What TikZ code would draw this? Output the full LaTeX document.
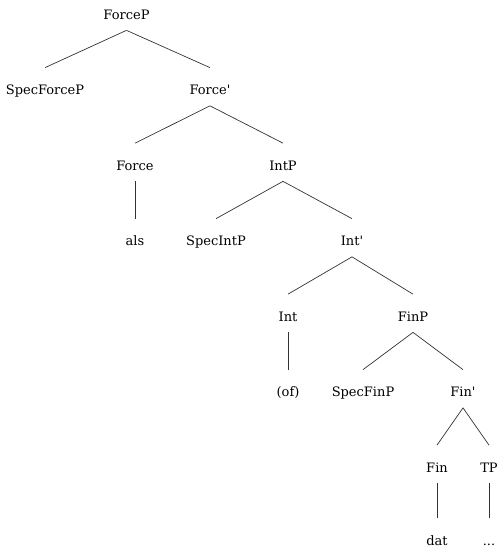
\documentclass[tikz,border=0pt]{standalone}
\usepackage{fontspec}
\setmainfont{DejaVu Serif}
\usepackage{tikz}

\begin{document}
\begin{tikzpicture}[x=1pt, y=-1pt, line width=0.7pt, draw=black!80,
    cat/.style={anchor=base, inner xsep=0pt, inner ysep=4pt, text height=22.5pt, text depth=7pt, font=\fontsize{13}{15}\selectfont},
    leaf/.style={cat, inner ysep=1pt, text height=25.5pt, text depth=1pt}]
    \useasboundingbox (0,0) rectangle (502,549);
    \node[cat] (forcep) at (126.5,19) {ForceP};
    \node[cat] (specforcep) at (45,94.5) {SpecForceP};
    \node[cat] (forcebar) at (210,94.5) {Force\textquotesingle};
    \node[cat] (force) at (135,170) {Force};
    \node[cat] (intp) at (283,170) {IntP};
    \node[cat] (als) at (135,245.5) {als};
    \node[cat] (specintp) at (216,245.5) {SpecIntP};
    \node[cat] (intbar) at (352,245.5) {Int\textquotesingle};
    \node[cat] (int) at (288,321) {Int};
    \node[cat] (finp) at (413,321) {FinP};
    \node[cat] (of) at (288,396.5) {(of)};
    \node[cat] (specfinp) at (363,396.5) {SpecFinP};
    \node[cat] (finbar) at (463,396.5) {Fin\textquotesingle};
    \node[cat] (fin) at (437,472) {Fin};
    \node[cat] (tp) at (489,472) {TP};
    \node[leaf] (dat) at (437,545) {dat};
    \node[leaf] (dots) at (489,545) {...};
    \draw (forcep.south) -- (specforcep.north);
    \draw (forcep.south) -- (forcebar.north);
    \draw (forcebar.south) -- (force.north);
    \draw (forcebar.south) -- (intp.north);
    \draw (force.south) -- (als.north);
    \draw (intp.south) -- (specintp.north);
    \draw (intp.south) -- (intbar.north);
    \draw (intbar.south) -- (int.north);
    \draw (intbar.south) -- (finp.north);
    \draw (int.south) -- (of.north);
    \draw (finp.south) -- (specfinp.north);
    \draw (finp.south) -- (finbar.north);
    \draw (finbar.south) -- (fin.north);
    \draw (finbar.south) -- (tp.north);
    \draw (fin.south) -- (dat.north);
    \draw (tp.south) -- (dots.north);
\end{tikzpicture}
\end{document}
